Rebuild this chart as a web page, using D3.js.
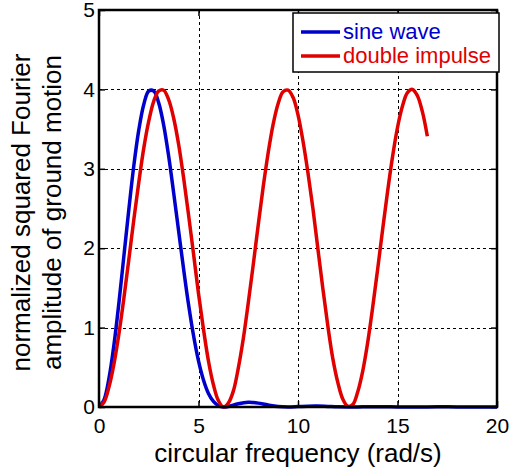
<!DOCTYPE html>
<html>
<head>
<meta charset="utf-8">
<script src="https://cdn.jsdelivr.net/npm/d3@7.9.0/dist/d3.min.js"></script>
<style>
  body { margin: 0; background: #fff; }
  svg { display: block; font-family: Arial, "Liberation Sans", sans-serif; }
</style>
</head>
<body>
<svg id="chart" width="509" height="472"></svg>
<script>
// data
const sineOmega = [0, 0.25, 0.5, 0.75, 1, 1.25, 1.5, 1.75, 2, 2.25, 2.5, 2.75, 3, 3.25, 3.5, 3.75,
  4, 4.25, 4.5, 4.75, 5, 5.25, 5.5, 5.75, 6, 6.25, 6.5, 7, 7.5, 7.75, 8, 8.5, 9, 9.5, 10, 10.5,
  11, 11.5, 12, 12.5, 13, 13.5, 14, 14.5, 15, 16, 17, 18, 19, 20];
const sineAmp = [0, 0.09, 0.36, 0.78, 1.31, 1.90, 2.49, 3.04, 3.49, 3.81, 3.98, 3.98, 3.83, 3.55, 3.16, 2.70,
  2.22, 1.74, 1.29, 0.90, 0.58, 0.34, 0.17, 0.07, 0.017, 0, 0.006, 0.041, 0.06, 0.057, 0.049, 0.024, 0.005, 0, 0.005, 0.011,
  0.012, 0.007, 0.002, 0, 0.001, 0.003, 0.004, 0.003, 0.001, 0, 0.002, 0.001, 0, 0.001];

const impulseOmega = [0, 0.25, 0.5, 0.75, 1, 1.25, 1.5, 1.75, 2, 2.25, 2.5, 2.75, 3, 3.25, 3.5, 3.75,
  4, 4.25, 4.5, 4.75, 5, 5.25, 5.5, 5.75, 6, 6.25, 6.5, 6.75, 7, 7.25, 7.5, 7.75, 8, 8.25, 8.5, 8.75,
  9, 9.25, 9.5, 9.75, 10, 10.25, 10.5, 10.75, 11, 11.25, 11.5, 11.75, 12, 12.25, 12.5, 12.75, 13, 13.25,
  13.5, 13.75, 14, 14.25, 14.5, 14.75, 15, 15.25, 15.5, 15.75, 16, 16.25, 16.5];
const impulseAmp = [0, 0.06, 0.25, 0.54, 0.92, 1.37, 1.86, 2.36, 2.83, 3.26, 3.60, 3.85, 3.98, 3.99, 3.87, 3.64,
  3.31, 2.89, 2.42, 1.93, 1.43, 0.98, 0.58, 0.28, 0.08, 0.00, 0.05, 0.20, 0.49, 0.86, 1.31, 1.79, 2.29, 2.77, 3.20, 3.56,
  3.82, 3.97, 3.99, 3.90, 3.68, 3.35, 2.95, 2.50, 1.99, 1.49, 1.02, 0.61, 0.31, 0.10, 0.01, 0.03, 0.19, 0.45,
  0.81, 1.25, 1.73, 2.23, 2.71, 3.15, 3.52, 3.79, 3.96, 4.00, 3.92, 3.72, 3.41];

const xTicks = [0, 5, 10, 15, 20];
const yTicks = [0, 1, 2, 3, 4, 5];
const seriesNames = ['sine wave', 'double impulse'];
const seriesColors = ['#0000cc', '#e00000'];

const svg = d3.select('#chart');
const padL = 99, padR = 497, padT = 10, padB = 407;

const x = d3.scaleLinear().domain([0, 20]).range([padL, padR]);
const y = d3.scaleLinear().domain([0, 5]).range([padB, padT]);

// grid
const grid = svg.append('g').attr('shape-rendering', 'crispEdges');
grid.selectAll('line.vx')
  .data(xTicks.slice(1, -1))
  .enter().append('line')
  .attr('x1', d => Math.round(x(d)) + 0.5).attr('x2', d => Math.round(x(d)) + 0.5)
  .attr('y1', padT).attr('y2', padB)
  .attr('stroke', '#000').attr('stroke-width', 1.5).attr('stroke-dasharray', '3,3');
grid.selectAll('line.hy')
  .data(yTicks.slice(1, -1))
  .enter().append('line')
  .attr('y1', d => Math.round(y(d)) + 0.5).attr('y2', d => Math.round(y(d)) + 0.5)
  .attr('x1', padL).attr('x2', padR)
  .attr('stroke', '#000').attr('stroke-width', 1.5).attr('stroke-dasharray', '3,3');

// curves
const line = d3.line()
  .x(d => x(d[0]))
  .y(d => y(d[1]))
  .curve(d3.curveCatmullRom);

const sineData = sineOmega.map((w, i) => [w, sineAmp[i]]);
const impulseData = impulseOmega.map((w, i) => [w, impulseAmp[i]]);

svg.append('path')
  .datum(sineData)
  .attr('d', line)
  .attr('fill', 'none')
  .attr('stroke', seriesColors[0])
  .attr('stroke-width', 3.5);

svg.append('path')
  .datum(impulseData)
  .attr('d', line)
  .attr('fill', 'none')
  .attr('stroke', seriesColors[1])
  .attr('stroke-width', 3.5);

// axes (matlab style box, ticks inward)
const axisStyle = g => {
  g.select('.domain').remove();
  g.selectAll('.tick line').attr('stroke', '#000').attr('stroke-width', 1.5);
  g.selectAll('.tick text').attr('fill', '#000').style('font-size', '21px');
};

svg.append('g')
  .attr('transform', `translate(0,${padB})`)
  .call(d3.axisBottom(x).tickValues(xTicks).tickFormat(d3.format('d')).tickSizeInner(-6).tickPadding(8))
  .call(axisStyle)
  .selectAll('.tick text').attr('dy', '0.85em');

svg.append('g')
  .attr('transform', `translate(${padL},0)`)
  .call(d3.axisLeft(y).tickValues(yTicks).tickFormat(d3.format('d')).tickSizeInner(-6).tickPadding(4))
  .call(axisStyle);

svg.append('g')
  .attr('transform', `translate(0,${padT})`)
  .call(d3.axisTop(x).tickValues(xTicks).tickSizeInner(-6).tickFormat(''))
  .call(axisStyle);

svg.append('g')
  .attr('transform', `translate(${padR},0)`)
  .call(d3.axisRight(y).tickValues(yTicks).tickSizeInner(-6).tickFormat(''))
  .call(axisStyle);

svg.append('rect')
  .attr('x', padL).attr('y', padT)
  .attr('width', padR - padL).attr('height', padB - padT)
  .attr('fill', 'none').attr('stroke', '#000').attr('stroke-width', 2.5);

// axis labels
svg.append('text')
  .attr('x', (padL + padR) / 2)
  .attr('y', 462)
  .attr('text-anchor', 'middle')
  .style('font-size', '26px')
  .text('circular frequency (rad/s)');

const yLab = svg.append('text')
  .attr('transform', `translate(30,${(padT + padB) / 2 + 4}) rotate(-90)`)
  .attr('text-anchor', 'middle')
  .style('font-size', '26px');
yLab.append('tspan').attr('x', 0).attr('y', 0).text('normalized squared Fourier');
yLab.append('tspan').attr('x', 0).attr('y', 31).text('amplitude of ground motion');

// legend
const legend = svg.append('g');
legend.append('rect')
  .attr('x', 293).attr('y', 13)
  .attr('width', 206).attr('height', 59)
  .attr('fill', '#fff').attr('stroke', '#000').attr('stroke-width', 1.5);

const items = legend.selectAll('g.item')
  .data(seriesNames)
  .enter().append('g')
  .attr('transform', (d, i) => `translate(0,${32 + i * 24})`);
items.append('line')
  .attr('x1', 301).attr('x2', 340)
  .attr('stroke', (d, i) => seriesColors[i])
  .attr('stroke-width', 3.5);
items.append('text')
  .attr('x', 343).attr('y', 7)
  .attr('fill', (d, i) => seriesColors[i])
  .style('font-size', '22px')
  .text(d => d);
</script>
</body>
</html>
